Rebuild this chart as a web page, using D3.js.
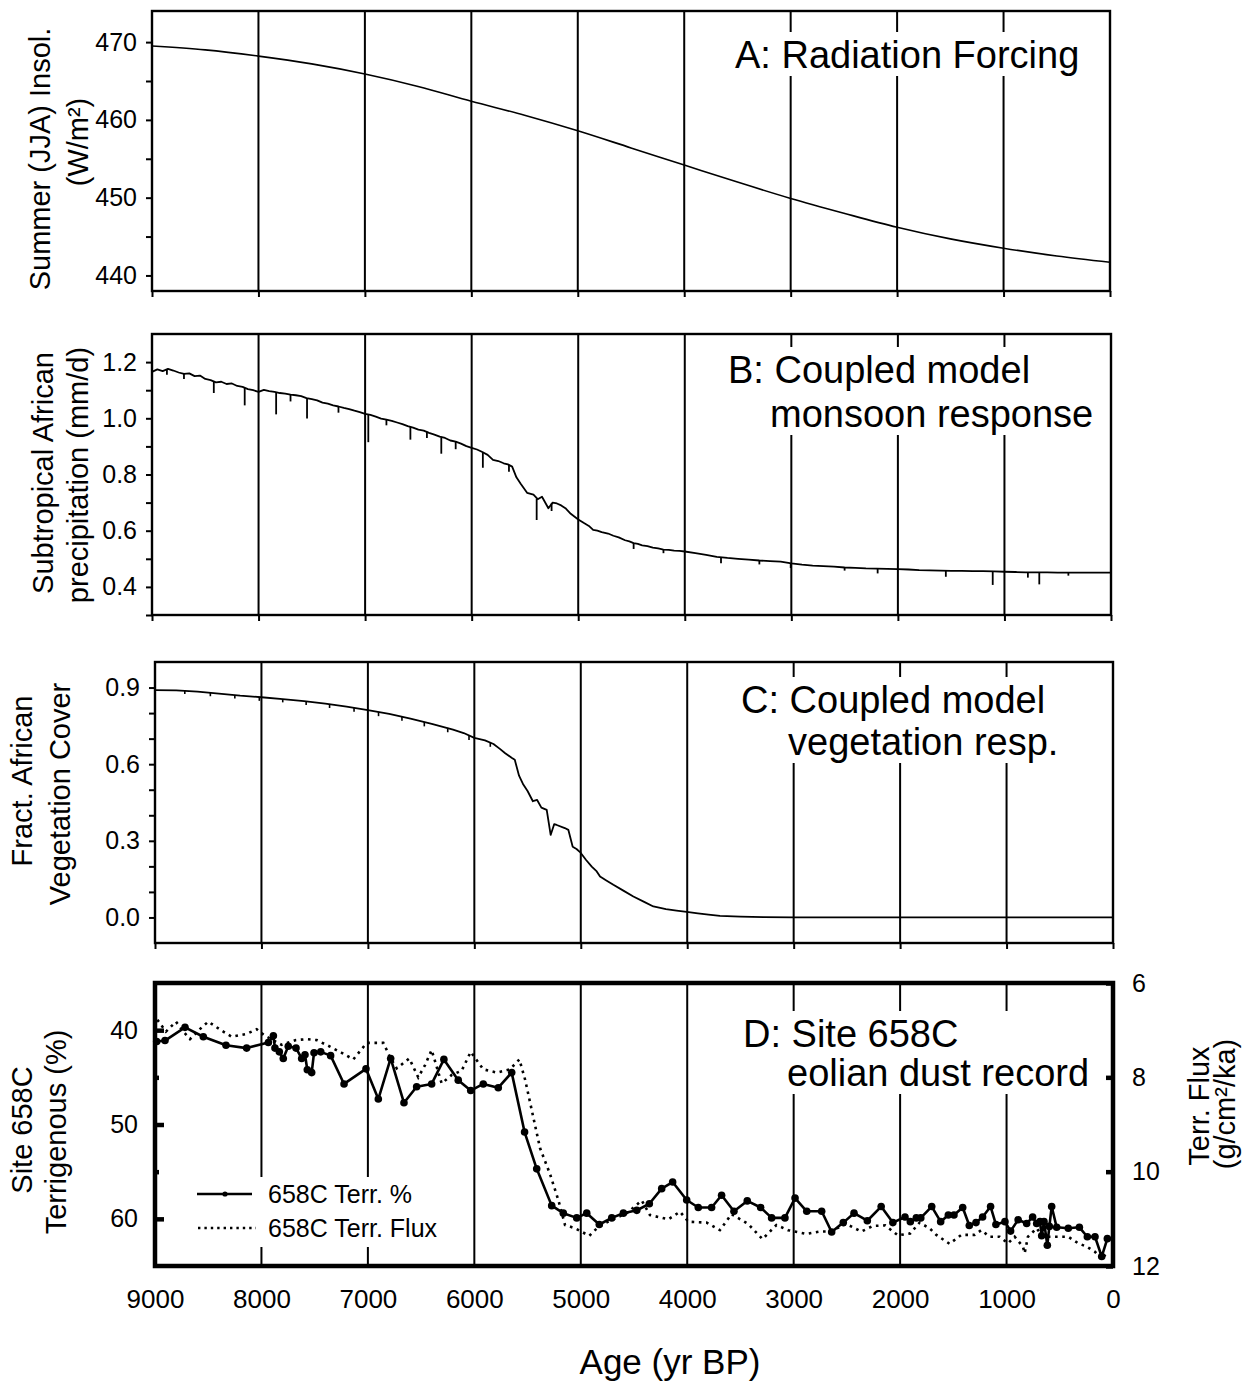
<!DOCTYPE html>
<html><head><meta charset="utf-8">
<script src="https://cdn.jsdelivr.net/npm/d3@7"></script>
<style>
body{margin:0;background:#fff}
svg{display:block}
text{font-family:"Liberation Sans",Arial,Helvetica,sans-serif;fill:#000}
</style>
</head><body>
<svg id="c" width="1258" height="1383"></svg>
<script>
// ---------------- DATA ----------------
const xTickVals = [9000,8000,7000,6000,5000,4000,3000,2000,1000,0];
const gridAges = [8000,7000,6000,5000,4000,3000,2000,1000];

// A: summer (JJA) insolation
const insolAges = [9000,8500,8000,7500,7000,6500,6000,5500,5000,4500,4000,3500,3000,2500,2000,1500,1000,500,0];
const insolValues = [469.5,469.0,468.2,467.2,465.9,464.3,462.4,460.6,458.6,456.4,454.2,452.0,449.9,448.0,446.2,444.7,443.5,442.5,441.7];
const insolTicksMajor = [440,450,460,470];
const insolTicksMinor = [445,455,465];

// B: precipitation [age, mm/d]
const precipSeries = [[9000,1.165],[8950,1.174],[8900,1.168],[8850,1.176],[8800,1.170],[8750,1.163],[8700,1.158],[8650,1.160],[8600,1.150],[8550,1.152],[8500,1.140],[8450,1.136],[8400,1.128],[8350,1.130],[8300,1.122],[8250,1.124],[8200,1.115],[8150,1.112],[8100,1.104],[8050,1.100],[8000,1.094],[7950,1.101],[7900,1.097],[7850,1.094],[7800,1.090],[7750,1.088],[7700,1.084],[7650,1.082],[7600,1.079],[7550,1.072],[7500,1.068],[7450,1.064],[7400,1.056],[7350,1.052],[7300,1.046],[7250,1.042],[7200,1.037],[7150,1.033],[7100,1.027],[7050,1.022],[7000,1.016],[6950,1.012],[6900,1.006],[6850,0.999],[6800,0.995],[6750,0.991],[6700,0.985],[6650,0.979],[6600,0.972],[6550,0.967],[6500,0.960],[6450,0.956],[6400,0.948],[6350,0.942],[6300,0.935],[6250,0.930],[6200,0.921],[6150,0.917],[6100,0.910],[6050,0.901],[6000,0.895],[5950,0.889],[5900,0.880],[5850,0.870],[5800,0.852],[5750,0.848],[5700,0.840],[5660,0.836],[5620,0.828],[5580,0.790],[5540,0.767],[5480,0.735],[5420,0.728],[5380,0.712],[5340,0.721],[5280,0.680],[5240,0.700],[5200,0.697],[5160,0.690],[5120,0.680],[5070,0.660],[5000,0.640],[4950,0.628],[4900,0.617],[4860,0.603],[4820,0.600],[4780,0.595],[4720,0.590],[4670,0.582],[4620,0.576],[4560,0.566],[4520,0.562],[4480,0.556],[4440,0.553],[4400,0.548],[4350,0.545],[4300,0.540],[4250,0.537],[4200,0.533],[4150,0.532],[4100,0.529],[4050,0.528],[4000,0.526],[3900,0.520],[3800,0.514],[3700,0.507],[3600,0.503],[3500,0.500],[3400,0.497],[3300,0.494],[3200,0.492],[3100,0.490],[3000,0.484],[2900,0.479],[2800,0.476],[2700,0.474],[2600,0.472],[2500,0.469],[2400,0.468],[2300,0.466],[2200,0.465],[2100,0.464],[2000,0.463],[1900,0.462],[1800,0.460],[1700,0.459],[1600,0.458],[1500,0.457],[1400,0.457],[1300,0.456],[1200,0.456],[1100,0.455],[1000,0.454],[900,0.453],[800,0.452],[700,0.452],[600,0.452],[500,0.451],[400,0.451],[300,0.451],[200,0.451],[100,0.451],[0,0.451]];
// [age, top, bottom] of the short downward excursions
const precipSpikes = [[8860,1.172,1.155],[8700,1.158,1.140],[8420,1.130,1.090],[8130,1.108,1.046],[7835,1.092,1.014],[7700,1.084,1.060],[7545,1.070,0.999],[7250,1.042,1.020],[6970,1.012,0.915],[6800,0.995,0.975],[6575,0.970,0.924],[6420,0.952,0.930],[6285,0.932,0.874],[6150,0.917,0.890],[5895,0.879,0.824],[5650,0.834,0.810],[5390,0.714,0.638],[5250,0.697,0.670],[4480,0.556,0.535],[4200,0.533,0.520],[3660,0.505,0.484],[3300,0.494,0.480],[3006,0.484,0.467],[2500,0.469,0.458],[2190,0.465,0.448],[1550,0.457,0.436],[1110,0.455,0.407],[780,0.452,0.433],[673,0.452,0.409],[400,0.451,0.440]];
const precipTicks = [0.3,0.4,0.5,0.6,0.7,0.8,0.9,1.0,1.1,1.2];
const precipLabels = [0.4,0.6,0.8,1.0,1.2];

// C: vegetation cover [age, fraction]
const vegSeries = [[9000,0.890],[8800,0.889],[8600,0.884],[8400,0.876],[8200,0.868],[8000,0.862],[7800,0.855],[7600,0.847],[7400,0.837],[7200,0.825],[7000,0.812],[6800,0.797],[6600,0.778],[6400,0.758],[6200,0.735],[6100,0.722],[6000,0.703],[5900,0.693],[5820,0.679],[5760,0.660],[5710,0.643],[5650,0.625],[5620,0.617],[5580,0.555],[5540,0.520],[5500,0.495],[5450,0.455],[5410,0.460],[5370,0.430],[5320,0.421],[5283,0.323],[5250,0.365],[5226,0.362],[5150,0.350],[5117,0.343],[5076,0.277],[5040,0.268],[5007,0.256],[4950,0.225],[4897,0.199],[4850,0.180],[4819,0.160],[4760,0.145],[4694,0.128],[4600,0.105],[4506,0.082],[4400,0.060],[4318,0.043],[4200,0.033],[4100,0.027],[4005,0.022],[3900,0.016],[3800,0.011],[3692,0.006],[3500,0.003],[3285,0.001],[3000,0.000],[2000,0.000],[1000,0.000],[0,0.000]];
const vegSpikes = [[8720,0.888,0.875],[8480,0.879,0.866],[8250,0.870,0.857],[8020,0.862,0.848],[7800,0.855,0.842],[7580,0.846,0.832],[7360,0.835,0.820],[7130,0.821,0.805],[6900,0.804,0.788],[6680,0.787,0.770],[6470,0.765,0.748],[6250,0.742,0.725],[6050,0.712,0.695],[5850,0.686,0.668]];
const vegTicks = [0.0,0.1,0.2,0.3,0.4,0.5,0.6,0.7,0.8,0.9];
const vegLabels = [0.0,0.3,0.6,0.9];

// D: Site 658C terrigenous % [age, %]
const terrPct = [[8984,41.2],[8906,41.1],[8718,39.7],[8546,40.7],[8333,41.6],[8139,41.9],[7935,41.3],[7888,40.6],[7873,41.9],[7832,42.3],[7795,43.0],[7748,41.7],[7675,41.9],[7622,43.0],[7591,42.6],[7569,44.2],[7528,44.5],[7506,42.4],[7443,42.3],[7350,42.7],[7224,45.7],[7018,44.1],[6902,47.3],[6786,43.0],[6661,47.7],[6542,46.0],[6401,45.7],[6286,43.1],[6151,45.3],[6034,46.4],[5916,45.7],[5775,46.1],[5649,44.5],[5528,50.8],[5414,54.7],[5273,58.6],[5164,59.4],[5038,59.9],[4944,59.4],[4826,60.6],[4709,59.9],[4600,59.4],[4474,59.1],[4356,58.4],[4240,56.8],[4137,56.1],[4005,58.0],[3896,58.8],[3771,58.8],[3677,57.5],[3561,59.2],[3436,58.1],[3310,58.8],[3207,59.9],[3082,59.9],[2987,57.8],[2877,59.2],[2737,59.2],[2643,61.4],[2534,60.4],[2433,59.4],[2308,60.2],[2178,58.7],[2068,60.4],[1954,59.8],[1904,60.3],[1848,59.9],[1806,59.9],[1703,58.7],[1619,60.3],[1547,59.6],[1494,59.6],[1412,58.8],[1350,60.7],[1287,60.4],[1225,59.8],[1150,58.7],[1100,60.6],[1015,60.3],[962,61.3],[891,60.1],[811,60.5],[755,59.8],[717,60.5],[686,60.3],[670,61.8],[648,60.3],[617,62.8],[598,60.8],[576,58.7],[529,60.9],[420,61.0],[316,60.9],[241,61.9],[169,61.9],[106,64.0],[53,62.1]];
// Site 658C terrigenous flux [age, g/cm2/ka]
const terrFlux = [[8978,6.78],[8897,7.03],[8803,6.82],[8734,7.03],[8671,7.19],[8561,6.94],[8499,6.82],[8374,7.01],[8279,7.14],[8139,7.08],[8045,6.98],[7967,7.12],[7810,7.31],[7675,7.21],[7575,7.19],[7481,7.21],[7356,7.35],[7246,7.48],[7137,7.62],[7011,7.27],[6855,7.27],[6786,7.60],[6729,7.81],[6611,7.60],[6527,8.00],[6463,7.74],[6401,7.42],[6307,8.13],[6213,7.95],[6119,7.86],[6034,7.46],[5916,7.83],[5790,7.90],[5665,7.83],[5577,7.62],[5524,8.04],[5461,8.69],[5383,9.50],[5289,10.05],[5211,10.60],[5148,11.13],[5054,11.20],[4920,11.36],[4835,11.17],[4709,11.02],[4568,10.88],[4427,10.61],[4350,10.92],[4178,11.01],[4068,10.85],[3990,11.06],[3818,11.08],[3693,11.24],[3584,10.90],[3427,11.11],[3293,11.43],[3162,11.13],[3052,11.24],[2880,11.32],[2755,11.27],[2661,11.27],[2505,11.11],[2364,11.27],[2255,11.15],[2140,11.14],[2021,11.35],[1905,11.31],[1817,11.08],[1723,11.20],[1660,11.34],[1535,11.53],[1425,11.34],[1300,11.34],[1237,11.24],[1159,11.38],[1065,11.38],[987,11.52],[924,11.38],[846,11.59],[830,11.73],[799,11.38],[717,11.20],[661,11.38],[561,11.38],[420,11.38],[326,11.52],[247,11.59],[169,11.70],[106,11.86],[53,11.70]];
const pctTicksMajor = [40,50,60];
const pctTicksMinor = [45,55];
const fluxTicks = [6,8,10,12];
const legendLabels = ["658C Terr. %","658C Terr. Flux"];

// ---------------- LAYOUT ----------------
const svg = d3.select('#c');
const FONT_TICK = 25;
const box = {
  A:{x0:152,x1:1110,y0:11,y1:291, dom:[438,474]},
  B:{x0:152,x1:1111,y0:334,y1:615, dom:[0.3,1.3]},
  C:{x0:155,x1:1113,y0:662,y1:943, dom:[-0.1,1.0]},
  D:{x0:155,x1:1113,y0:983,y1:1266, dom:[35,65]}
};
const X = {}, Y = {};
for (const k of Object.keys(box)) {
  const b = box[k];
  X[k] = d3.scaleLinear().domain([9000,0]).range([b.x0,b.x1]);
  Y[k] = k === 'D'
    ? d3.scaleLinear().domain(b.dom).range([b.y0,b.y1])
    : d3.scaleLinear().domain(b.dom).range([b.y1,b.y0]);
}
const fluxY = d3.scaleLinear().domain([6,12]).range([box.D.y0, box.D.y1]);

const layers = {};
for (const k of Object.keys(box)) {
  const g = svg.append('g');
  layers[k] = {grid:g.append('g'), boxes:g.append('g'), labels:g.append('g'), data:g.append('g'), frame:g.append('g'), axes:g.append('g')};
}

// gridlines
for (const k of Object.keys(box)) {
  const b = box[k];
  layers[k].grid.selectAll('line').data(gridAges).join('line')
    .attr('x1', d => X[k](d)).attr('x2', d => X[k](d))
    .attr('y1', b.y0).attr('y2', b.y1)
    .attr('stroke', '#000').attr('stroke-width', 2);
}

// panel labels with white backing
const labelSpec = {
  A:[["A: Radiation Forcing",735,68]],
  B:[["B: Coupled model",728,383],["monsoon response",770,427]],
  C:[["C: Coupled model",741,713],["vegetation resp.",788,755]],
  D:[["D: Site 658C",743,1047],["eolian dust record",787,1086]]
};
for (const k of Object.keys(labelSpec)) {
  layers[k].labels.selectAll('text').data(labelSpec[k]).join('text')
    .attr('x', d => d[1]).attr('y', d => d[2]).attr('font-size', 38).text(d => d[0]);
  const bb = layers[k].labels.node().getBBox();
  layers[k].boxes.append('rect').attr('x', bb.x - 6).attr('y', bb.y - 2)
    .attr('width', bb.width + 12).attr('height', bb.height + 2).attr('fill', '#fff');
}

// ---------- A ----------
const insolPts = insolAges.map((a, i) => [a, insolValues[i]]);
layers.A.data.append('path').datum(insolPts)
  .attr('d', d3.line().x(d => X.A(d[0])).y(d => Y.A(d[1])).curve(d3.curveMonotoneX))
  .attr('fill', 'none').attr('stroke', '#000').attr('stroke-width', 1.6);

// ---------- B ----------
layers.B.data.append('path').datum(precipSeries)
  .attr('d', d3.line().x(d => X.B(d[0])).y(d => Y.B(d[1])))
  .attr('fill', 'none').attr('stroke', '#000').attr('stroke-width', 1.8).attr('stroke-linejoin','round');
layers.B.data.selectAll('line.sp').data(precipSpikes).join('line').attr('class','sp')
  .attr('x1', d => X.B(d[0])).attr('x2', d => X.B(d[0]))
  .attr('y1', d => Y.B(d[1])).attr('y2', d => Y.B(d[2]))
  .attr('stroke', '#000').attr('stroke-width', 1.8);

// ---------- C ----------
layers.C.data.append('path').datum(vegSeries)
  .attr('d', d3.line().x(d => X.C(d[0])).y(d => Y.C(d[1])))
  .attr('fill', 'none').attr('stroke', '#000').attr('stroke-width', 1.8).attr('stroke-linejoin','round');
layers.C.data.selectAll('line.sp').data(vegSpikes).join('line').attr('class','sp')
  .attr('x1', d => X.C(d[0])).attr('x2', d => X.C(d[0]))
  .attr('y1', d => Y.C(d[1])).attr('y2', d => Y.C(d[2]))
  .attr('stroke', '#000').attr('stroke-width', 1.6);

// ---------- D ----------
layers.D.boxes.append('rect').attr('x', 186).attr('y', 1177).attr('width', 268).attr('height', 70).attr('fill', '#fff');
layers.D.data.append('path').datum(terrFlux)
  .attr('d', d3.line().x(d => X.D(d[0])).y(d => fluxY(d[1])))
  .attr('fill', 'none').attr('stroke', '#000').attr('stroke-width', 2.6).attr('stroke-dasharray', '2.6,4.6');
layers.D.data.append('path').datum(terrPct)
  .attr('d', d3.line().x(d => X.D(d[0])).y(d => Y.D(d[1])))
  .attr('fill', 'none').attr('stroke', '#000').attr('stroke-width', 2.6).attr('stroke-linejoin','round');
layers.D.data.selectAll('circle').data(terrPct).join('circle')
  .attr('cx', d => X.D(d[0])).attr('cy', d => Y.D(d[1])).attr('r', 3.8).attr('fill', '#000');
const lg = layers.D.labels.append('g');
lg.append('line').attr('x1',197).attr('x2',252).attr('y1',1194).attr('y2',1194).attr('stroke','#000').attr('stroke-width',2.6);
lg.append('circle').attr('cx',225).attr('cy',1194).attr('r',2.6).attr('fill','#000');
lg.append('line').attr('x1',198).attr('x2',256).attr('y1',1228).attr('y2',1228).attr('stroke','#000').attr('stroke-width',2.4).attr('stroke-dasharray','2.4,4');
lg.selectAll('text').data(legendLabels).join('text')
  .attr('x', 268).attr('y', (d,i) => 1203 + i*34).attr('font-size', 25).text(d => d);

// ---------- frames ----------
for (const k of Object.keys(box)) {
  const b = box[k];
  layers[k].frame.append('rect').attr('x', b.x0).attr('y', b.y0)
    .attr('width', b.x1 - b.x0).attr('height', b.y1 - b.y0)
    .attr('fill', 'none').attr('stroke', '#000').attr('stroke-width', k === 'D' ? 4.5 : 2.4);
}

// ---------- axes ----------
function styleAxis(g, sw) {
  g.select('.domain').remove();
  g.selectAll('line').attr('stroke', '#000').attr('stroke-width', sw);
  g.selectAll('text').attr('font-size', FONT_TICK).attr('font-family', '"Liberation Sans",Arial,sans-serif').attr('fill', '#000');
}
const f1 = d3.format('.1f');
const fInt = d3.format('d');
{
  const g = layers.A.axes.append('g').attr('transform', `translate(${box.A.x0},0)`)
    .call(d3.axisLeft(Y.A).tickValues(insolTicksMajor.concat(insolTicksMinor))
      .tickFormat(d => insolTicksMajor.includes(d) ? fInt(d) : '').tickSize(6).tickPadding(9));
  styleAxis(g, 2);
}
{
  const g = layers.B.axes.append('g').attr('transform', `translate(${box.B.x0},0)`)
    .call(d3.axisLeft(Y.B).tickValues(precipTicks)
      .tickFormat(d => precipLabels.includes(d) ? f1(d) : '').tickSize(6).tickPadding(9));
  styleAxis(g, 2);
}
{
  const g = layers.C.axes.append('g').attr('transform', `translate(${box.C.x0},0)`)
    .call(d3.axisLeft(Y.C).tickValues(vegTicks)
      .tickFormat(d => vegLabels.includes(d) ? f1(d) : '').tickSize(6).tickPadding(9));
  styleAxis(g, 2);
}
for (const k of ['A','B','C']) {
  const g = layers[k].axes.append('g').attr('transform', `translate(0,${box[k].y1})`)
    .call(d3.axisBottom(X[k]).tickValues(xTickVals).tickFormat('').tickSize(6));
  styleAxis(g, 2);
}
{
  const g = layers.D.axes.append('g').attr('transform', `translate(${box.D.x0},0)`)
    .call(d3.axisLeft(Y.D).tickValues(pctTicksMajor).tickFormat(fInt).tickSize(-9).tickPadding(17));
  styleAxis(g, 4.5);
  const g2 = layers.D.axes.append('g').attr('transform', `translate(${box.D.x0},0)`)
    .call(d3.axisLeft(Y.D).tickValues(pctTicksMinor).tickFormat('').tickSize(-4));
  styleAxis(g2, 4.5);
}
{
  const g = layers.D.axes.append('g').attr('transform', `translate(${box.D.x1},0)`)
    .call(d3.axisRight(fluxY).tickValues(fluxTicks).tickFormat(fInt).tickSize(-7).tickPadding(19));
  styleAxis(g, 4.5);
}
{
  const g = layers.D.axes.append('g').attr('transform', `translate(0,${box.D.y1})`)
    .call(d3.axisBottom(X.D).tickValues(xTickVals).tickFormat(fInt).tickSize(0).tickPadding(24));
  styleAxis(g, 0);
  g.selectAll('text').attr('font-size', 26);
}

// ---------- axis titles ----------
const titles = [
  ["Summer (JJA) Insol.", 40, 159], ["(W/m²)", 78, 142],
  ["Subtropical African", 43, 473], ["precipitation (mm/d)", 78, 475],
  ["Fract. African", 22, 781], ["Vegetation Cover", 60, 794],
  ["Site 658C", 22, 1130], ["Terrigenous (%)", 56, 1132],
  ["Terr. Flux", 1199, 1106], ["(g/cm²/ka)", 1225, 1104]
];
svg.append('g').selectAll('text').data(titles).join('text')
  .attr('transform', d => `translate(${d[1]},${d[2]}) rotate(-90)`)
  .attr('text-anchor', 'middle').attr('dy', '0.35em').attr('font-size', 29)
  .text(d => d[0]);
svg.append('text').attr('x', 670).attr('y', 1374).attr('text-anchor', 'middle')
  .attr('font-size', 35).text('Age (yr BP)');
</script>
</body></html>
